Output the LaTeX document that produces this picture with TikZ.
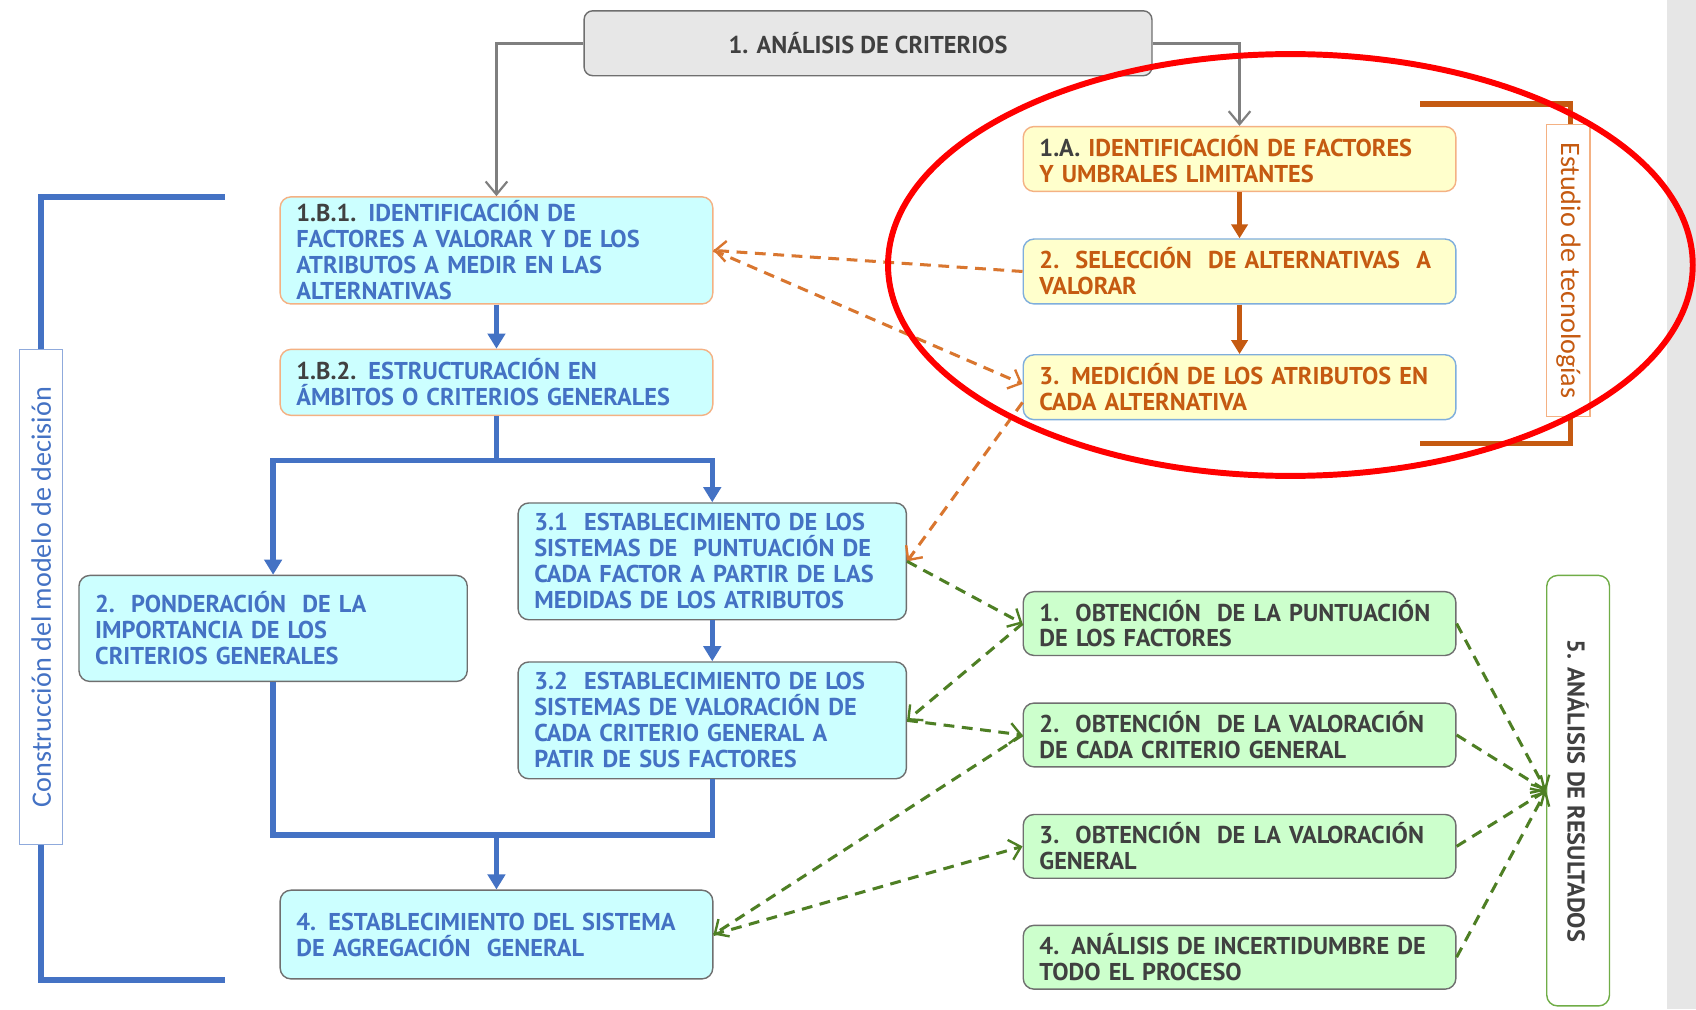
\documentclass[tikz,border=0pt]{standalone}
\usepackage{fontspec}
\setmainfont{PT Sans}
\newfontfamily\labelfont{Carlito}
\usetikzlibrary{arrows.meta,calc}

\definecolor{txtblue}{HTML}{4472C4}
\definecolor{lineblue}{HTML}{4472C4}
\definecolor{cyanfill}{HTML}{CCFFFF}
\definecolor{peach}{HTML}{F4B183}
\definecolor{rust}{HTML}{C55A11}
\definecolor{dashorange}{HTML}{D9762F}
\definecolor{yellowfill}{HTML}{FFFFCC}
\definecolor{skyborder}{HTML}{7FAEDC}
\definecolor{greenfill}{HTML}{CCFFCC}
\definecolor{darkgreen}{HTML}{4E7F24}
\definecolor{midgreen}{HTML}{70AD47}
\definecolor{boxgray}{HTML}{6F6F6F}
\definecolor{linegray}{HTML}{7F7F7F}
\definecolor{topfill}{HTML}{E7E7E7}
\definecolor{stripgray}{HTML}{E6E6E6}
\definecolor{dk}{HTML}{404040}
\definecolor{labelblue}{HTML}{8FAADC}

\begin{document}
\begin{tikzpicture}[x=1pt,y=-1pt,
  boxtext/.style={font=\fontsize{22.5}{24}\selectfont\bfseries},
  card/.style={boxtext, rounded corners=10pt, line width=1.3pt, inner xsep=15pt,
    inner ysep=0pt, align=left},
  wide/.style={minimum width=400pt, text width=370pt},
  mid/.style={minimum width=359pt, text width=329pt},
  bluecard/.style={card, fill=cyanfill, draw=peach, text=txtblue},
  bluecardg/.style={card, fill=cyanfill, draw=boxgray, text=txtblue},
  yellowcard/.style={card, fill=yellowfill, text=rust},
  greencard/.style={card, fill=greenfill, draw=boxgray, text=dk, wide, minimum height=59pt},
  sidelabel/.style={fill=white, line width=1pt, inner sep=0pt},
  grayarrow/.style={draw=linegray, line width=2.6pt, -{Straight Barb[length=12pt,width=20pt,line width=2pt]}},
  bluearrow/.style={draw=lineblue, line width=5pt, -{Triangle[length=14pt,width=16pt]}},
  blueline/.style={draw=lineblue, line width=5pt},
  rustarrow/.style={draw=rust, line width=4pt, -{Triangle[length=13pt,width=15pt]}},
  odash/.style={draw=dashorange, line width=2.8pt, dash pattern=on 10pt off 7pt,
    -{Straight Barb[length=10pt,width=19pt,line width=2.2pt]}},
  gdash/.style={draw=darkgreen, line width=2.8pt, dash pattern=on 10pt off 7pt,
    -{Straight Barb[length=10pt,width=19pt,line width=2.2pt]}}
]
\useasboundingbox (0,0) rectangle (1568,933);
\fill[white] (0,0) rectangle (1568,933);
\fill[stripgray] (1541,0) rectangle (1568,933);

% brackets grouping the two blocks of work
\coordinate (lbt) at (208,182);
\coordinate (lbb) at (208,906);
\draw[lineblue, line width=5pt] (lbt) -| (38,906) -- (lbb);
\coordinate (rbt) at (1313,96);
\coordinate (rbb) at (1313,410);
\draw[rust, line width=5pt] (rbt) -| (1452,410) -- (rbb);

\node[sidelabel, draw=labelblue, rotate=90, minimum width=458pt, minimum height=40pt,
  text=txtblue, font=\labelfont\fontsize{26}{26}\selectfont] (lblL) at (38,552)
  {Construcción del modelo de decisión};
\node[sidelabel, draw=peach, rotate=-90, minimum width=270pt, minimum height=40pt,
  text=rust, font=\labelfont\fontsize{26}{26}\selectfont] (lblR) at (1450,250)
  {Estudio de tecnologías};

% stage boxes
\node[card, fill=topfill, draw=boxgray, text=dk, align=center, minimum width=525pt,
  minimum height=60pt, rounded corners=8pt] (top) at (802.5,40) {1. ANÁLISIS DE CRITERIOS};

\node[bluecard, wide, minimum height=99pt] (ib1) at (459,231.5)
  {{\color{dk}1.B.1.} IDENTIFICACIÓN DE\\FACTORES A VALORAR Y DE LOS\\ATRIBUTOS A MEDIR EN LAS\\ALTERNATIVAS};
\node[bluecard, wide, minimum height=61pt] (ib2) at (459,353.5)
  {{\color{dk}1.B.2.} ESTRUCTURACIÓN EN\\ÁMBITOS O CRITERIOS GENERALES};
\node[bluecardg, mid, minimum height=98pt] (p2) at (252.5,581)
  {2.\ \ PONDERACIÓN\ \ DE LA\\IMPORTANCIA DE LOS\\CRITERIOS GENERALES};
\node[bluecardg, mid, minimum height=108pt] (b31) at (658.5,519)
  {3.1\ \ ESTABLECIMIENTO DE LOS\\SISTEMAS DE\ \ PUNTUACIÓN DE\\CADA FACTOR A PARTIR DE LAS\\MEDIDAS DE LOS ATRIBUTOS};
\node[bluecardg, mid, minimum height=108pt] (b32) at (658.5,666)
  {3.2\ \ ESTABLECIMIENTO DE LOS\\SISTEMAS DE VALORACIÓN DE\\CADA CRITERIO GENERAL A\\PATIR DE SUS FACTORES};
\node[bluecardg, wide, minimum height=82pt] (b4) at (459,864)
  {4. ESTABLECIMIENTO DEL SISTEMA\\DE AGREGACIÓN\ \ GENERAL};

\node[yellowcard, draw=peach, wide, minimum height=60pt] (ia) at (1146,147)
  {{\color{dk}1.A.} IDENTIFICACIÓN DE FACTORES\\Y UMBRALES LIMITANTES};
\node[yellowcard, draw=skyborder, wide, minimum height=60pt] (s2) at (1146,251)
  {2.\ \ SELECCIÓN\ \ DE ALTERNATIVAS\ \ A\\VALORAR};
\node[yellowcard, draw=skyborder, wide, minimum height=60pt] (s3) at (1146,358)
  {3. MEDICIÓN DE LOS ATRIBUTOS EN\\CADA ALTERNATIVA};

\node[greencard] (o1) at (1146,576.5) {1.\ \ OBTENCIÓN\ \ DE LA PUNTUACIÓN\\DE LOS FACTORES};
\node[greencard] (o2) at (1146,679.5) {2.\ \ OBTENCIÓN\ \ DE LA VALORACIÓN\\DE CADA CRITERIO GENERAL};
\node[greencard] (o3) at (1146,782.5) {3.\ \ OBTENCIÓN\ \ DE LA VALORACIÓN\\GENERAL};
\node[greencard] (o4) at (1146,885) {4. ANÁLISIS DE INCERTIDUMBRE DE\\TODO EL PROCESO};

\node[boxtext, rotate=-90, fill=white, draw=midgreen, line width=1.3pt, rounded corners=10pt,
  minimum width=398pt, minimum height=58pt, inner sep=0pt, text=dk] (res) at (1459,731)
  {5. ANÁLISIS DE RESULTADOS};

% flow from the criteria analysis
\draw[grayarrow] (top.west) -| (ib1.north);
\draw[grayarrow] (top.east) -| (ia.north);

% decision model construction
\draw[bluearrow] (ib1.south) -- (ib2.north);
\coordinate (split) at (459,426);
\draw[blueline] (ib2.south) -- (split);
\draw[bluearrow] (split) -| (p2.north);
\draw[bluearrow] (split) -| (b31.north);
\draw[bluearrow] (b31.south) -- (b32.north);
\coordinate (merge) at (459,772);
\draw[blueline, line join=miter] (p2.south) |- (merge) -| (b32.south);
\draw[bluearrow] (merge) -- (b4.north);

% technology study
\draw[rustarrow] (ia.south) -- (s2.north);
\draw[rustarrow] (s2.south) -- (s3.north);
\draw[odash] (s2.west) -- (ib1.east);
\draw[odash] (ib1.east) -- ([yshift=3pt]s3.west);
\draw[odash] ([yshift=-14pt]s3.west) -- (b31.east);

% results
\draw[gdash] (b31.east) -- (o1.west);
\draw[gdash] (o1.west) -- (b32.east);
\draw[gdash] (b32.east) -- (o2.west);
\draw[gdash] (o2.west) -- (b4.east);
\draw[gdash] (b4.east) -- (o3.west);
\draw[gdash] (o1.east) -- (res.south);
\draw[gdash] (o2.east) -- (res.south);
\draw[gdash] (o3.east) -- (res.south);
\draw[gdash] (o4.east) -- (res.south);

% highlight
\draw[red, line width=5.5pt] (1193,245) ellipse [x radius=372pt, y radius=195pt];
\end{tikzpicture}
\end{document}
